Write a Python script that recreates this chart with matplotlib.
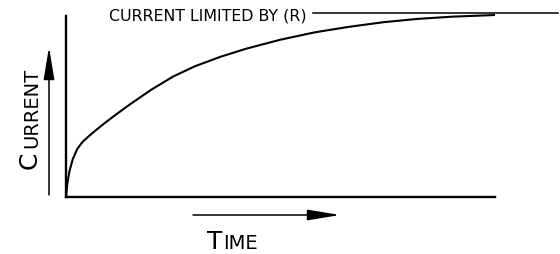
import matplotlib
matplotlib.use("Agg")
import matplotlib.pyplot as plt

# ---- data ----
time_vals = [0.0, 0.003, 0.008, 0.016, 0.026, 0.038, 0.052, 0.068, 0.085, 0.11,
             0.15, 0.20, 0.25, 0.30, 0.36, 0.42, 0.50, 0.58, 0.66, 0.74, 0.82,
             0.90, 1.0]
current_vals = [0.0, 0.07, 0.14, 0.207, 0.26, 0.298, 0.328, 0.36, 0.392, 0.437,
                0.505, 0.585, 0.655, 0.71, 0.762, 0.806, 0.855, 0.895, 0.925, 0.95,
                0.968, 0.98, 0.989]
limit_value = 1.0
limit_label = "CURRENT LIMITED BY (R)"
y_label = ("C", "URRENT")
x_label = ("T", "IME")

W, H = 560, 255
fig = plt.figure(figsize=(W / 100, H / 100), dpi=100)
ax = fig.add_axes([66 / W, (H - 198) / H, 429 / W, 184 / H])
ax.set_xlim(0, 1)
ax.set_ylim(0, 1)
for s in ("top", "right"):
    ax.spines[s].set_visible(False)
for s in ("left", "bottom"):
    ax.spines[s].set_linewidth(1.7)
ax.spines["left"].set_bounds(0, 0.986)
ax.set_xticks([])
ax.set_yticks([])
ax.patch.set_visible(False)

ax.plot(time_vals, current_vals, color="black", lw=1.5, solid_capstyle="butt",
        solid_joinstyle="round")

# limit line with its label
ax.plot([0.576, 1.147], [limit_value, limit_value], color="black", lw=1.1,
        clip_on=False)
ax.text(0.1, limit_value - 0.033, limit_label, fontsize=11.4, family="DejaVu Sans",
        ha="left", va="baseline", color="black")

# arrows
ap = dict(arrowstyle="-|>,head_length=2.0,head_width=0.33", mutation_scale=10,
          lw=1.1, color="black", shrinkA=0, shrinkB=0)
ax.annotate("", xy=(49, H - 48), xytext=(49, H - 196), xycoords="figure pixels",
            textcoords="figure pixels", arrowprops=ap)
ax.annotate("", xy=(340, H - 216), xytext=(193, H - 216), xycoords="figure pixels",
            textcoords="figure pixels", arrowprops=ap)

# axis labels (small caps style)
fig.text(37 / W, (H - 169) / H, y_label[0], rotation=90, rotation_mode="anchor",
         ha="left", va="baseline", fontsize=18, family="DejaVu Sans")
fig.text(37 / W, (H - 148) / H, y_label[1], rotation=90, rotation_mode="anchor",
         ha="left", va="baseline", fontsize=14, family="DejaVu Sans")
fig.text(207 / W, (H - 249) / H, x_label[0], ha="left", va="baseline",
         fontsize=18, family="DejaVu Sans")
fig.text(223 / W, (H - 249) / H, x_label[1], ha="left", va="baseline",
         fontsize=14, family="DejaVu Sans")

fig.savefig("out.png", dpi=100)
